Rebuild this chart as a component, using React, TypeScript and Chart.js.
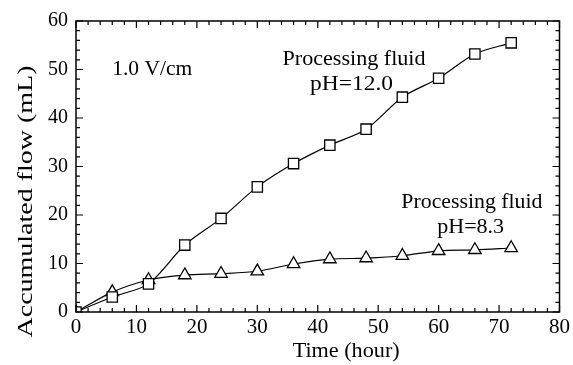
import React, { useEffect, useRef } from "react";
import { Chart, registerables } from "chart.js";

Chart.register(...registerables);

const timeHours = [0, 6, 12, 18, 24, 30, 36, 42, 48, 54, 60, 66, 72];
const flowPH120 = [0, 3.1, 5.8, 13.8, 19.3, 25.8, 30.6, 34.4, 37.7, 44.3, 48.2, 53.2, 55.5];
const flowPH83 = [0, 4.1, 6.6, 7.6, 7.9, 8.4, 9.9, 10.9, 11.1, 11.6, 12.6, 12.8, 13.2];
const xTickLabels = ["0", "10", "20", "30", "40", "50", "60", "70", "80"];
const yTickLabels = ["0", "10", "20", "30", "40", "50", "60"];

const FONT = "'Liberation Serif', 'Times New Roman', serif";

function stretchText(ctx: any, text: string, cx: number, baseY: number, size: number, width: number) {
  ctx.save();
  ctx.font = `${size}px ${FONT}`;
  const w = ctx.measureText(text).width;
  ctx.translate(cx, baseY);
  ctx.scale(width / w, 1);
  ctx.textAlign = "center";
  ctx.textBaseline = "alphabetic";
  ctx.fillText(text, 0, 0);
  ctx.restore();
}

const framePlugin = {
  id: "frame",
  afterDraw(chart: any) {
    const { ctx, chartArea: a, scales } = chart;
    const xs = scales.x;
    const ys = scales.y;
    ctx.save();
    ctx.strokeStyle = "#000";
    ctx.lineWidth = 1.5;
    ctx.strokeRect(a.left, a.top, a.right - a.left, a.bottom - a.top);
    ctx.lineWidth = 1.2;
    ctx.beginPath();
    for (let v = 0; v <= 80; v += 2) {
      const p = xs.getPixelForValue(v);
      const len = v % 10 === 0 ? 7 : 4;
      ctx.moveTo(p, a.bottom);
      ctx.lineTo(p, a.bottom - len);
      ctx.moveTo(p, a.top);
      ctx.lineTo(p, a.top + len);
    }
    for (let v = 0; v <= 60; v += 2) {
      const p = ys.getPixelForValue(v);
      const len = v % 10 === 0 ? 7 : 4;
      ctx.moveTo(a.left, p);
      ctx.lineTo(a.left + len, p);
      ctx.moveTo(a.right, p);
      ctx.lineTo(a.right - len, p);
    }
    ctx.stroke();

    ctx.fillStyle = "#000";
    stretchText(ctx, "1.0 V/cm", xs.getPixelForValue(12.6), ys.getPixelForValue(48.9), 20, 80);
    stretchText(ctx, "Processing fluid", xs.getPixelForValue(46.0), ys.getPixelForValue(50.9), 20, 143);
    stretchText(ctx, "pH=12.0", xs.getPixelForValue(45.6), ys.getPixelForValue(45.8), 20, 83);
    stretchText(ctx, "Processing fluid", xs.getPixelForValue(65.5), ys.getPixelForValue(21.4), 20, 141);
    stretchText(ctx, "pH=8.3", xs.getPixelForValue(65.3), ys.getPixelForValue(16.3), 20, 67);

    stretchText(ctx, "Time (hour)", xs.getPixelForValue(44.7), 357, 21, 107);
    ctx.save();
    ctx.translate(32, 201.5);
    ctx.rotate(-Math.PI / 2);
    stretchText(ctx, "Accumulated flow (mL)", 0, 0, 20, 272);
    ctx.restore();
    ctx.restore();
  },
};

export default function App() {
  const ref = useRef<HTMLCanvasElement>(null);
  useEffect(() => {
    if (!ref.current) return;
    const chart = new Chart(ref.current, {
      type: "line",
      data: {
        datasets: [
          {
            label: "pH=12.0",
            data: timeHours.map((t, i) => ({ x: t, y: flowPH120[i] })),
            borderColor: "#000",
            borderWidth: 1.2,
            backgroundColor: "#fff",
            pointStyle: "rect",
            pointRadius: 7.3,
            pointBorderWidth: 1.3,
            pointBorderColor: "#000",
            pointBackgroundColor: "#fff",
            tension: 0.3,
          },
          {
            label: "pH=8.3",
            data: timeHours.map((t, i) => ({ x: t, y: flowPH83[i] })),
            borderColor: "#000",
            borderWidth: 1.2,
            backgroundColor: "#fff",
            pointStyle: "triangle",
            pointRadius: 7.2,
            pointBorderWidth: 1.3,
            pointBorderColor: "#000",
            pointBackgroundColor: "#fff",
            tension: 0.3,
          },
        ],
      },
      options: {
        animation: false,
        responsive: false,
        maintainAspectRatio: false,
        layout: { padding: { top: 21, right: 13, left: 0, bottom: 0 } },
        plugins: { legend: { display: false }, tooltip: { enabled: false } },
        scales: {
          x: {
            type: "linear",
            min: 0,
            max: 80,
            afterFit: (s: any) => {
              s.height = 53;
            },
            afterBuildTicks: (s: any) => {
              s.ticks = xTickLabels.map((l) => ({ value: Number(l) }));
            },
            ticks: {
              color: "#000",
              font: { family: FONT, size: 21 },
              padding: 3,
              maxRotation: 0,
              autoSkip: false,
            },
            grid: { display: false, drawTicks: false },
            border: { display: false },
          },
          y: {
            type: "linear",
            min: 0,
            max: 60,
            afterFit: (s: any) => {
              s.width = 76;
            },
            afterBuildTicks: (s: any) => {
              s.ticks = yTickLabels.map((l) => ({ value: Number(l) }));
            },
            ticks: {
              color: "#000",
              font: { family: FONT, size: 20 },
              padding: 8,
              autoSkip: false,
            },
            grid: { display: false, drawTicks: false },
            border: { display: false },
          },
        },
      },
      plugins: [framePlugin],
    });
    return () => chart.destroy();
  }, []);
  return (
    <div style={{ position: "fixed", left: 0, top: 0, width: 573, height: 365, background: "#fff" }}>
      <canvas ref={ref} width={573} height={365} style={{ width: 573, height: 365 }} />
    </div>
  );
}
